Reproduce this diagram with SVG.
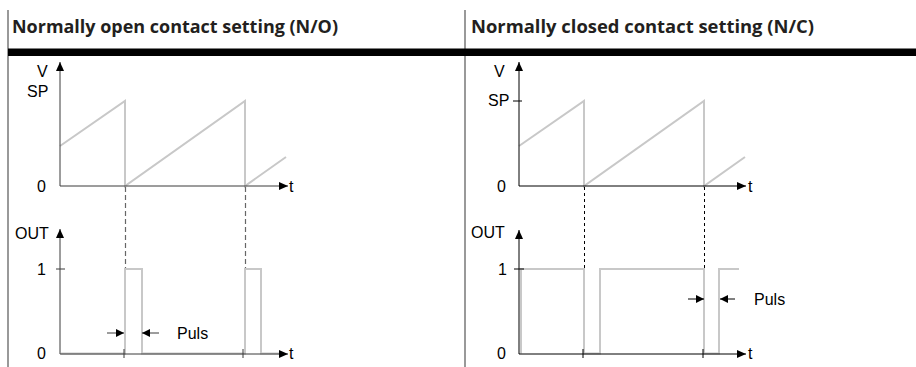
<svg xmlns="http://www.w3.org/2000/svg" width="916" height="367" viewBox="0 0 916 367">
<style>
.hdr{font-family:"Open Sans","Noto Sans","Liberation Sans",sans-serif;font-weight:700;font-size:17.5px;fill:#231f20}
.lbl{font-family:"Liberation Sans",Arial,sans-serif;font-size:16px;fill:#000}
.ax{stroke:#000;stroke-width:1;fill:none}
.axl{stroke:#3a3a3a;stroke-width:1;fill:none}
.sig{stroke:#c8c8c8;stroke-width:2;fill:none;stroke-linejoin:miter}
.dashL{stroke:#666;stroke-width:1.2;stroke-dasharray:5 3;fill:none}
.dashR{stroke:#000;stroke-width:1;stroke-dasharray:3 3;fill:none}
.border{stroke:#555;stroke-width:1.2}
</style>
<defs>
<marker id="ah" markerUnits="userSpaceOnUse" markerWidth="10" markerHeight="8" refX="9" refY="4" orient="auto">
<path d="M0,0 L9,4 L0,8 z" fill="#000"/>
</marker>
<marker id="ahs" markerUnits="userSpaceOnUse" markerWidth="9" markerHeight="8" refX="8" refY="4" orient="auto">
<path d="M0,0 L8,4 L0,8 z" fill="#000"/>
</marker>
</defs>
<rect width="916" height="367" fill="#fff"/>

<g id="header">
<line class="border" x1="8" y1="10" x2="8" y2="367"/>
<line class="border" x1="465" y1="10" x2="465" y2="367"/>
<rect x="8" y="48.5" width="908" height="7.5" fill="#000"/>
<text class="hdr" x="12" y="33" textLength="326" lengthAdjust="spacingAndGlyphs">Normally open contact setting (N/O)</text>
<text class="hdr" x="471" y="33" textLength="343" lengthAdjust="spacingAndGlyphs">Normally closed contact setting (N/C)</text>
</g>

<g id="no-voltage">
<text class="lbl" x="37" y="77">V</text>
<text class="lbl" x="27" y="97">SP</text>
<text class="lbl" x="37" y="192">0</text>
<text class="lbl" x="289" y="192">t</text>
<polyline class="sig" points="60,146 125,101 125,186 245,101 245,186 286,157"/>
</g>

<g id="no-output">
<text class="lbl" x="15" y="239">OUT</text>
<text class="lbl" x="37" y="275">1</text>
<text class="lbl" x="37" y="359">0</text>
<text class="lbl" x="289" y="359">t</text>
<polyline class="sig" points="61,353.5 125,353.5 125,269 142,269 142,353.5 245,353.5 245,269 261,269 261,353.5 280,353.5"/>
<text class="lbl" x="177" y="339">Puls</text>
</g>

<g id="nc-voltage">
<text class="lbl" x="494" y="77">V</text>
<text class="lbl" x="488" y="106">SP</text>
<text class="lbl" x="497" y="192">0</text>
<text class="lbl" x="748" y="192">t</text>
<polyline class="sig" points="519,146 584,101 584,186 704,101 704,186 745,157"/>
</g>

<g id="nc-output">
<text class="lbl" x="471" y="238">OUT</text>
<text class="lbl" x="498" y="275">1</text>
<text class="lbl" x="497" y="359">0</text>
<text class="lbl" x="748" y="359">t</text>
<polyline class="sig" points="521,353.5 521,269 584,269 584,353.5 600,353.5 600,269 704,269 704,353.5 719,353.5 719,269 739,269"/>
<text class="lbl" x="754" y="305">Puls</text>
</g>

<g id="connectors">
<line class="axl" x1="60" y1="186" x2="60" y2="62" marker-end="url(#ah)"/>
<line class="axl" x1="60" y1="186" x2="288" y2="186" marker-end="url(#ah)"/>
<line class="axl" x1="60" y1="354" x2="60" y2="229" marker-end="url(#ah)"/>
<line class="axl" x1="60" y1="354" x2="288" y2="354" marker-end="url(#ah)"/>
<line class="axl" x1="56" y1="269" x2="65" y2="269"/>
<line class="axl" x1="124" y1="349" x2="124" y2="358"/>
<line class="axl" x1="243" y1="349" x2="243" y2="358"/>
<line class="dashL" x1="125.5" y1="187" x2="125.5" y2="268"/>
<line class="dashL" x1="245.5" y1="187" x2="245.5" y2="268"/>
<line class="axl" x1="107" y1="333" x2="124" y2="333" marker-end="url(#ahs)"/>
<line class="axl" x1="159" y1="333" x2="142" y2="333" marker-end="url(#ahs)"/>
<line class="ax" x1="519" y1="186" x2="519" y2="62" marker-end="url(#ah)"/>
<line class="ax" x1="519" y1="186" x2="746" y2="186" marker-end="url(#ah)"/>
<line class="ax" x1="513" y1="101" x2="522" y2="101"/>
<line class="ax" x1="519" y1="354" x2="519" y2="230" marker-end="url(#ah)"/>
<line class="ax" x1="519" y1="354" x2="746" y2="354" marker-end="url(#ah)"/>
<line class="ax" x1="514" y1="269" x2="524" y2="269"/>
<line class="ax" x1="583" y1="349" x2="583" y2="358"/>
<line class="ax" x1="703" y1="349" x2="703" y2="358"/>
<line class="dashR" x1="584.5" y1="187" x2="584.5" y2="268"/>
<line class="dashR" x1="704.5" y1="187" x2="704.5" y2="268"/>
<line class="ax" x1="688" y1="299" x2="704" y2="299" marker-end="url(#ahs)"/>
<line class="ax" x1="735" y1="299" x2="720" y2="299" marker-end="url(#ahs)"/>
</g>
</svg>
